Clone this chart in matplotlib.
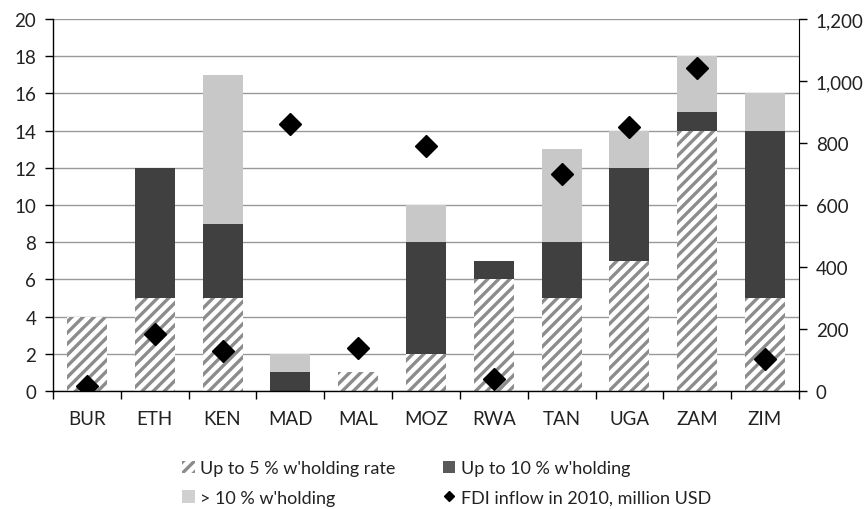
import matplotlib.pyplot as plt
import numpy as np
from matplotlib.lines import Line2D
from matplotlib.patches import Patch

plt.rcParams['font.family'] = ['Lato', 'DejaVu Sans']
plt.rcParams['hatch.linewidth'] = 2.4
plt.rcParams['hatch.color'] = '#8c8c8c'

countries = ["BUR", "ETH", "KEN", "MAD", "MAL", "MOZ", "RWA", "TAN", "UGA", "ZAM", "ZIM"]
upto5 = [4, 5, 5, 0, 1, 2, 6, 5, 7, 14, 5]
upto10 = [0, 7, 4, 1, 0, 6, 1, 3, 5, 1, 9]
over10 = [0, 0, 8, 1, 0, 2, 0, 5, 2, 3, 2]
fdi = [16, 184, 129, 861, 139, 790, 39, 700, 851, 1042, 103]

x = np.arange(len(countries))
b1 = np.array(upto5)
b2 = b1 + np.array(upto10)

fig = plt.figure(figsize=(8.66, 5.10), dpi=100)
ax = fig.add_axes([53/866, 1 - 392/510, (799-53)/866, (392-20)/510])

w = 0.59
ax.bar(x, upto5, w, color='white', hatch='///', edgecolor='#8c8c8c', linewidth=0, zorder=2)
ax.bar(x, upto10, w, bottom=b1, color='#404040', linewidth=0, zorder=2)
ax.bar(x, over10, w, bottom=b2, color='#c8c8c8', linewidth=0, zorder=2)

ax.set_ylim(0, 20)
ax.set_yticks(range(0, 21, 2))
ax.set_xlim(-0.5, len(countries) - 0.5)
ax.set_xticks(x)
ax.set_xticklabels(countries)
ax.set_xticks(np.arange(-0.5, len(countries), 1), minor=True)
ax.tick_params(axis='x', which='major', length=0, pad=14, labelsize=13.5, labelcolor='#222222')
ax.tick_params(axis='x', which='minor', length=6, width=1, direction='out')
ax.tick_params(axis='y', length=6, width=1, labelsize=13.5, pad=6, labelcolor='#222222')
ax.grid(axis='y', color='#999999', linewidth=1, zorder=0)
ax.set_axisbelow(True)
ax.spines['top'].set_visible(False)
ax.spines['right'].set_visible(False)
for s in ['left', 'bottom']:
    ax.spines[s].set_color('black')
    ax.spines[s].set_linewidth(1)

ax2 = ax.twinx()
ax2.plot(x, fdi, 'D', color='black', markersize=11, zorder=5)
ax2.set_ylim(0, 1200)
ax2.set_yticks(range(0, 1201, 200))
ax2.set_yticklabels([f"{v:,}" for v in range(0, 1201, 200)])
ax2.tick_params(axis='y', length=6, width=1, labelsize=13.5, pad=6, labelcolor='#222222')
ax2.spines['top'].set_visible(False)
ax2.spines['left'].set_visible(False)
ax2.spines['bottom'].set_visible(False)
ax2.spines['right'].set_color('black')

handles = [
    Patch(facecolor='white', hatch='///', edgecolor='#8c8c8c', linewidth=0, label="Up to 5 % w'holding rate"),
    Patch(facecolor='#d0d0d0', linewidth=0, label="> 10 % w'holding"),
    Patch(facecolor='#595959', linewidth=0, label="Up to 10 % w'holding"),
    Line2D([], [], marker='D', color='black', linestyle='none', markersize=5, label="FDI inflow in 2010, million USD"),
]
fig.legend(handles=handles, ncol=2, loc='center left', bbox_to_anchor=(166/866, 1 - 484/510),
           frameon=False, fontsize=13, handlelength=0.7, handleheight=0.7, handletextpad=0.3,
           columnspacing=2.6, labelspacing=0.75, labelcolor='#222222')

fig.savefig("out.png", dpi=100)
